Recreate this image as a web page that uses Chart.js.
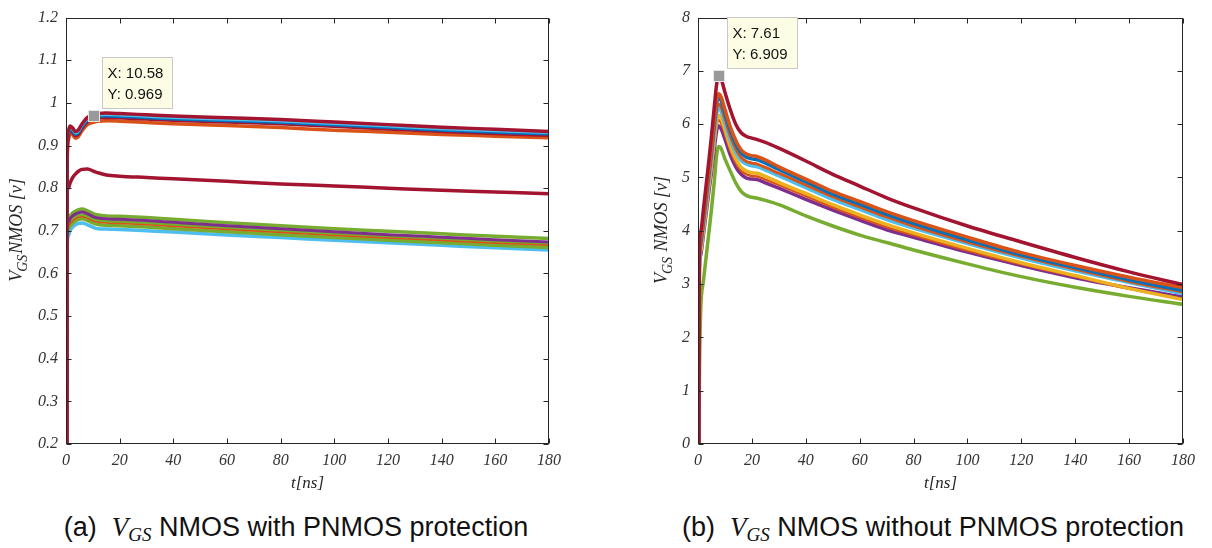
<!DOCTYPE html>
<html>
<head>
<meta charset="utf-8">
<script src="https://cdn.jsdelivr.net/npm/chart.js@4.4.1/dist/chart.umd.min.js"></script>
<style>
  html, body { margin: 0; padding: 0; background: #fff; }
  body { width: 1212px; height: 548px; position: relative; overflow: hidden; }
  .panel { position: absolute; top: 0; width: 606px; height: 500px; }
  .caption {
    position: absolute; top: 510px; width: 600px; text-align: center;
    font-family: "Liberation Sans", Arial, sans-serif; font-size: 27px; color: #111;
    white-space: nowrap; line-height: 34px;
  }
  .caption .m { font-family: "Liberation Serif", "Times New Roman", serif; font-style: italic; }
  .caption sub { font-size: 19px; vertical-align: -5px; line-height: 0; }
</style>
</head>
<body>
<div class="panel" style="left:0"><canvas id="chartA" width="606" height="500"></canvas></div>
<div class="panel" style="left:606px"><canvas id="chartB" width="606" height="500"></canvas></div>
<div class="caption" style="left:-4px">(a)&nbsp; <span class="m">V<sub>GS</sub></span> NMOS with PNMOS protection</div>
<div class="caption" style="left:633px">(b)&nbsp; <span class="m">V<sub>GS</sub></span> NMOS without PNMOS protection</div>

<script>
// ---- shared axis ticks ----
const xTicks = [0, 20, 40, 60, 80, 100, 120, 140, 160, 180];
const yTicksA = [0.2, 0.3, 0.4, 0.5, 0.6, 0.7, 0.8, 0.9, 1.0, 1.1, 1.2];
const yLabelsA = ['0.2', '0.3', '0.4', '0.5', '0.6', '0.7', '0.8', '0.9', '1', '1.1', '1.2'];
const yTicksB = [0, 1, 2, 3, 4, 5, 6, 7, 8];
const yLabelsB = ['0', '1', '2', '3', '4', '5', '6', '7', '8'];

// ---- (a) with protection: time samples [ns] and V_GS [V] ----
const tA = [0.25, 0.45, 0.9, 1.5, 2.5, 3.5, 4.5, 6, 8, 10.58, 12, 15, 20, 30, 40, 60, 80, 100, 120, 140, 160, 180];
const aTopRed1   = [0.2, 0.89, 0.935, 0.946, 0.941, 0.933, 0.936, 0.951, 0.966, 0.973, 0.975, 0.976, 0.975, 0.972, 0.969, 0.965, 0.961, 0.955, 0.949, 0.943, 0.938, 0.933];
const aTopCyan   = [0.2, 0.885, 0.93, 0.942, 0.937, 0.929, 0.932, 0.947, 0.962, 0.969, 0.971, 0.972, 0.971, 0.968, 0.965, 0.961, 0.957, 0.951, 0.945, 0.939, 0.934, 0.930];
const aTopBlue   = [0.2, 0.88, 0.927, 0.939, 0.934, 0.926, 0.929, 0.944, 0.959, 0.966, 0.968, 0.969, 0.968, 0.965, 0.962, 0.958, 0.954, 0.948, 0.942, 0.936, 0.931, 0.927];
const aTopRed2   = [0.2, 0.875, 0.924, 0.936, 0.931, 0.923, 0.926, 0.941, 0.956, 0.963, 0.965, 0.966, 0.965, 0.962, 0.959, 0.955, 0.951, 0.945, 0.939, 0.933, 0.928, 0.924];
const aTopOrange = [0.2, 0.86, 0.912, 0.93, 0.925, 0.917, 0.92, 0.935, 0.949, 0.955, 0.957, 0.958, 0.957, 0.954, 0.951, 0.947, 0.942, 0.936, 0.931, 0.926, 0.922, 0.918];
const aMidRed    = [0.2, 0.792, 0.8, 0.812, 0.825, 0.833, 0.839, 0.844, 0.845, 0.839, 0.836, 0.831, 0.828, 0.825, 0.822, 0.816, 0.81, 0.805, 0.8, 0.795, 0.791, 0.787];
const aLowGreen1 = [0.2, 0.715, 0.727, 0.735, 0.742, 0.746, 0.749, 0.751, 0.747, 0.739, 0.737, 0.735, 0.734, 0.731, 0.727, 0.719, 0.712, 0.705, 0.699, 0.693, 0.687, 0.682];
const aLowPurple = [0.2, 0.708, 0.72, 0.728, 0.735, 0.739, 0.742, 0.744, 0.740, 0.732, 0.730, 0.728, 0.727, 0.724, 0.720, 0.712, 0.705, 0.698, 0.691, 0.685, 0.679, 0.674];
const aLowGreen2 = [0.2, 0.700, 0.713, 0.721, 0.728, 0.732, 0.735, 0.737, 0.733, 0.726, 0.724, 0.722, 0.721, 0.718, 0.714, 0.706, 0.699, 0.692, 0.685, 0.679, 0.673, 0.668];
const aLowOrange = [0.2, 0.695, 0.708, 0.716, 0.723, 0.728, 0.731, 0.733, 0.729, 0.722, 0.720, 0.718, 0.717, 0.714, 0.710, 0.703, 0.696, 0.689, 0.683, 0.677, 0.671, 0.666];
const aLowGreen3 = [0.2, 0.69, 0.703, 0.711, 0.718, 0.723, 0.726, 0.728, 0.724, 0.717, 0.715, 0.713, 0.712, 0.709, 0.705, 0.698, 0.691, 0.684, 0.678, 0.672, 0.666, 0.661];
const aLowCyan   = [0.2, 0.668, 0.688, 0.700, 0.709, 0.714, 0.717, 0.718, 0.714, 0.707, 0.705, 0.704, 0.703, 0.700, 0.697, 0.690, 0.684, 0.678, 0.672, 0.666, 0.660, 0.655];
const tipA = { x: 10.58, y: 0.969 };

// ---- (b) without protection ----
const tB = [0.3, 0.5, 1, 2, 3, 4, 5, 6, 7, 7.61, 8.5, 10, 12, 14, 16, 18, 20, 22, 25, 30, 40, 50, 60, 70, 80, 100, 120, 140, 160, 180];
const bRed     = [0, 3.7, 3.98, 4.4, 4.85, 5.3, 5.78, 6.3, 6.78, 6.909, 6.86, 6.6, 6.27, 6.0, 5.84, 5.77, 5.74, 5.71, 5.66, 5.55, 5.31, 5.06, 4.84, 4.62, 4.43, 4.09, 3.79, 3.50, 3.23, 2.99];
const bOrange  = [0, 3.5, 3.85, 4.25, 4.7, 5.12, 5.55, 6.05, 6.48, 6.57, 6.52, 6.28, 5.95, 5.70, 5.52, 5.44, 5.41, 5.39, 5.33, 5.20, 4.97, 4.74, 4.55, 4.36, 4.19, 3.88, 3.59, 3.35, 3.13, 2.93];
const bBlue    = [0, 3.45, 3.8, 4.2, 4.65, 5.08, 5.5, 5.98, 6.41, 6.50, 6.45, 6.2, 5.88, 5.63, 5.46, 5.38, 5.35, 5.33, 5.27, 5.15, 4.92, 4.69, 4.50, 4.31, 4.14, 3.83, 3.55, 3.31, 3.08, 2.88];
const bOrange2 = [0, 3.35, 3.72, 4.12, 4.55, 4.97, 5.4, 5.88, 6.3, 6.38, 6.33, 6.1, 5.78, 5.54, 5.38, 5.3, 5.27, 5.25, 5.19, 5.08, 4.86, 4.64, 4.45, 4.26, 4.09, 3.79, 3.52, 3.28, 3.05, 2.85];
const bCyan    = [0, 3.3, 3.7, 4.08, 4.5, 4.92, 5.33, 5.8, 6.22, 6.30, 6.25, 6.02, 5.7, 5.47, 5.32, 5.25, 5.22, 5.20, 5.14, 5.03, 4.81, 4.59, 4.40, 4.21, 4.05, 3.76, 3.49, 3.25, 3.03, 2.82];
const bYellow  = [0, 3.25, 3.62, 4.0, 4.42, 4.83, 5.22, 5.68, 6.09, 6.17, 6.12, 5.9, 5.58, 5.35, 5.19, 5.12, 5.09, 5.08, 5.02, 4.91, 4.70, 4.49, 4.30, 4.12, 3.96, 3.67, 3.40, 3.16, 2.92, 2.71];
const bYellow2 = [0, 3.22, 3.58, 3.96, 4.37, 4.77, 5.16, 5.6, 6.0, 6.08, 6.03, 5.82, 5.51, 5.28, 5.13, 5.06, 5.03, 5.02, 4.96, 4.86, 4.65, 4.44, 4.25, 4.07, 3.92, 3.63, 3.37, 3.14, 2.91, 2.72];
const bPurple  = [0, 3.2, 3.55, 3.92, 4.32, 4.72, 5.1, 5.52, 5.9, 5.97, 5.92, 5.72, 5.42, 5.2, 5.06, 4.99, 4.97, 4.96, 4.90, 4.80, 4.59, 4.39, 4.20, 4.02, 3.88, 3.60, 3.35, 3.12, 2.93, 2.76];
const bGreen   = [0, 1.2, 2.5, 3.05, 3.5, 3.95, 4.4, 4.9, 5.45, 5.58, 5.55, 5.35, 5.12, 4.9, 4.74, 4.66, 4.63, 4.61, 4.57, 4.49, 4.28, 4.09, 3.92, 3.78, 3.64, 3.38, 3.14, 2.94, 2.77, 2.62];
const tipB = { x: 7.61, y: 6.909 };

// MATLAB default line colours
const C = {
  blue: '#0072BD', orange: '#D95319', yellow: '#EDB120', purple: '#7E2F8E',
  green: '#77AC30', cyan: '#4DBEEE', red: '#A2142F'
};

function pts(t, v) { return t.map((x, i) => ({ x, y: v[i] })); }
function line(t, v, color, width) {
  return {
    data: pts(t, v), borderColor: color, borderWidth: width || 3.5,
    pointRadius: 0, fill: false, cubicInterpolationMode: 'monotone',
    borderCapStyle: 'round', borderJoinStyle: 'round'
  };
}

const serif = '"Liberation Serif", "Times New Roman", serif';
const sans = '"Liberation Sans", Arial, sans-serif';

// Box, inward ticks on four sides, axis titles and the data tip
const frame = {
  id: 'frame',
  afterDraw(chart, args, o) {
    const { ctx, chartArea: a, scales } = chart;
    const L = Math.round(a.left) + 0.5, R = Math.round(a.right) - 0.5;
    const T = Math.round(a.top) + 0.5, B = Math.round(a.bottom) - 0.5;
    ctx.save();
    ctx.strokeStyle = '#262626';
    ctx.lineWidth = 1;
    ctx.strokeRect(L, T, R - L, B - T);
    ctx.beginPath();
    o.xTicks.forEach(v => {
      const px = Math.round(scales.x.getPixelForValue(v)) + 0.5;
      ctx.moveTo(px, B); ctx.lineTo(px, B - 5);
      ctx.moveTo(px, T); ctx.lineTo(px, T + 5);
    });
    o.yTicks.forEach(v => {
      const py = Math.round(scales.y.getPixelForValue(v)) + 0.5;
      ctx.moveTo(L, py); ctx.lineTo(L + 5, py);
      ctx.moveTo(R, py); ctx.lineTo(R - 5, py);
    });
    ctx.stroke();

    // x title
    ctx.fillStyle = '#262626';
    ctx.font = 'italic 17px ' + serif;
    ctx.textAlign = 'center';
    ctx.textBaseline = 'middle';
    ctx.fillText('t[ns]', (a.left + a.right) / 2, 484);

    // y title: V_GS NMOS [v]
    ctx.save();
    ctx.translate(o.yTitleX, o.yTitleY);
    ctx.rotate(-Math.PI / 2);
    ctx.textAlign = 'left';
    ctx.textBaseline = 'middle';
    const big = 'italic 18px ' + serif, small = 'italic 14px ' + serif;
    ctx.font = big; const wV = ctx.measureText('V').width;
    ctx.font = small; const wS = ctx.measureText('GS').width;
    ctx.font = big; const rest = o.yTitleRest; const wR = ctx.measureText(rest).width;
    let x0 = -(wV + wS + wR) / 2;
    ctx.fillText('V', x0, 0);
    ctx.font = small; ctx.fillText('GS', x0 + wV - 1, 6);
    ctx.font = big; ctx.fillText(rest, x0 + wV + wS, 0);
    ctx.restore();

    // data tip
    const tp = o.tip;
    const mx = scales.x.getPixelForValue(tp.x), my = scales.y.getPixelForValue(tp.y);
    ctx.fillStyle = '#999999';
    ctx.strokeStyle = '#e6e6e6';
    ctx.fillRect(mx - 5.5, my - 5.5, 11, 11);
    ctx.strokeRect(Math.round(mx - 6) + 0.5, Math.round(my - 6) + 0.5, 11, 11);
    const bx = Math.round(mx + 8) + 0.5, by = Math.round(my - 8 - 51) + 0.5;
    ctx.fillStyle = '#FDFDE6';
    ctx.strokeStyle = '#C8C8C8';
    ctx.fillRect(bx, by, 70, 51);
    ctx.strokeRect(bx, by, 70, 51);
    ctx.fillStyle = '#111';
    ctx.font = '15px ' + sans;
    ctx.textAlign = 'left';
    ctx.textBaseline = 'middle';
    ctx.fillText('X: ' + o.tipLabels[0], bx + 5, by + 16);
    ctx.fillText('Y: ' + o.tipLabels[1], bx + 5, by + 37);
    ctx.restore();
  }
};

function makeChart(id, datasets, cfg) {
  return new Chart(document.getElementById(id), {
    type: 'line',
    data: { datasets },
    plugins: [frame],
    options: {
      responsive: false, animation: false, devicePixelRatio: 1,
      layout: { padding: { top: 15, right: cfg.padRight, left: 0, bottom: 0 } },
      plugins: {
        legend: { display: false }, tooltip: { enabled: false },
        frame: cfg.frame
      },
      scales: {
        x: {
          type: 'linear', min: 0, max: 180,
          grid: { display: false, drawTicks: false }, border: { display: false },
          afterBuildTicks: s => { s.ticks = xTicks.map(v => ({ value: v })); },
          afterFit: s => { s.height = 56; },
          ticks: {
            padding: 7, maxRotation: 0, autoSkip: false, color: '#333',
            font: { family: serif, style: 'italic', size: 16 },
            callback: v => String(v)
          }
        },
        y: {
          type: 'linear', min: cfg.yMin, max: cfg.yMax,
          grid: { display: false, drawTicks: false }, border: { display: false },
          afterBuildTicks: s => { s.ticks = cfg.yTicks.map(v => ({ value: v })); },
          afterFit: s => { s.width = cfg.yWidth; },
          ticks: {
            padding: 8, autoSkip: false, color: '#333',
            font: { family: serif, style: 'italic', size: 16 },
            callback: (v, i) => cfg.yLabels[i]
          }
        }
      }
    }
  });
}

// first dataset is drawn on top
makeChart('chartA', [
  line(tA, aTopRed1, C.red),
  line(tA, aTopCyan, C.cyan, 2.5),
  line(tA, aTopBlue, C.blue, 3),
  line(tA, aTopRed2, C.red),
  line(tA, aTopOrange, C.orange),
  line(tA, aMidRed, C.red),
  line(tA, aLowPurple, C.purple, 3),
  line(tA, aLowOrange, C.orange, 1.5),
  line(tA, aLowGreen1, C.green),
  line(tA, aLowGreen2, C.green),
  line(tA, aLowGreen3, C.green),
  line(tA, aLowCyan, C.cyan)
], {
  padRight: 57, yWidth: 66, yMin: 0.2, yMax: 1.2, yTicks: yTicksA, yLabels: yLabelsA,
  frame: { xTicks, yTicks: yTicksA, yTitleX: 17, yTitleY: 230, yTitleRest: 'NMOS [v]', tip: tipA, tipLabels: ['10.58', '0.969'] }
});

makeChart('chartB', [
  line(tB, bRed, C.red),
  line(tB, bOrange, C.orange),
  line(tB, bBlue, C.blue),
  line(tB, bOrange2, C.orange, 3),
  line(tB, bCyan, C.cyan),
  line(tB, bYellow, C.yellow),
  line(tB, bYellow2, C.orange, 2.5),
  line(tB, bPurple, C.purple),
  line(tB, bGreen, C.green)
], {
  padRight: 29, yWidth: 92, yMin: 0, yMax: 8, yTicks: yTicksB, yLabels: yLabelsB,
  frame: { xTicks, yTicks: yTicksB, yTitleX: 56, yTitleY: 230, yTitleRest: ' NMOS [v]', tip: tipB, tipLabels: ['7.61', '6.909'] }
});
</script>
</body>
</html>
